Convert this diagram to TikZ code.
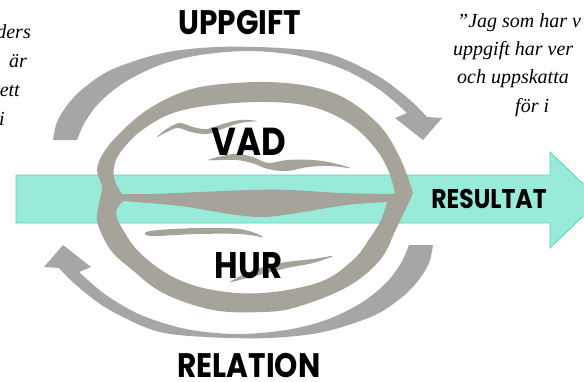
\documentclass[tikz,border=0pt]{standalone}
\usepackage{fontspec}
\setmainfont{Liberation Serif}
\newfontfamily\headfont{Poppins}[FakeStretch=0.87]
\definecolor{bandfill}{HTML}{98EBD8}
\definecolor{bandline}{HTML}{5CD3B4}
\definecolor{arcgray}{HTML}{A6A6A6}
\definecolor{nutgray}{HTML}{A6A39B}

% curved grey arrow running over the top, from lower left to the head at right
\newcommand\cyclearc{%
  \fill[arcgray]
    plot[smooth, tension=0.55] coordinates {(53,140) (57,122) (68,104) (85,87) (113,69) (163,53) (217,47) (280,48) (330,54) (378,76) (410,100) (427,117)}
    -- (442,118) -- (423,140) -- (395,118) -- (407,113)
    -- plot[smooth, tension=0.55] coordinates {(407,113) (380,90) (345,70) (300,56) (250,51) (200,55) (160,65) (125,82) (100,102) (85,122) (77,140)}
    -- cycle;}

\begin{document}
\begin{tikzpicture}[x=1pt, y=-1pt,
  head/.style={font=\headfont\bfseries\fontsize{34}{34}\selectfont, inner sep=0pt, anchor=base},
  quote/.style={font=\itshape\fontsize{20}{20}\selectfont, inner sep=0pt},
  strand/.style={fill=nutgray}]
\useasboundingbox (0,0) rectangle (584,381);
\clip (0,0) rectangle (584,381);

% result band
\filldraw[fill=bandfill, draw=bandline, line width=0.8pt]
  (16,175) -- (550,175) -- (550,152) -- (600,200) -- (550,248) -- (550,223) -- (16,223) -- cycle;

% the two circular arrows
\cyclearc
\begin{scope}[rotate around={180:(243,192.5)}]
  \cyclearc
\end{scope}

% walnut: shell with two chambers
\fill[nutgray, even odd rule]
  plot[smooth, tension=0.6] coordinates {(413,193) (401,160) (381,127) (348,100) (313,87) (267,82) (213,85) (180,93) (147,110) (121,132) (104,152) (97,170) (102,187) (99,203) (97,220) (103,237) (113,253) (130,268) (163,293) (213,310) (263,312) (297,307) (347,287) (380,260) (397,227) (410,200) (413,193)}
  -- cycle
  plot[smooth, tension=0.6] coordinates {(122,194) (114,178) (116,160) (128,143) (145,128) (173,113) (213,105) (267,102) (313,107) (350,124) (375,148) (389,172) (395,194)}
  -- plot[smooth, tension=0.6] coordinates {(395,194) (340,193) (290,190) (250,190) (200,192) (150,194) (122,194)}
  -- cycle
  plot[smooth, tension=0.6] coordinates {(123,201) (180,206) (230,214) (263,217) (297,213) (347,205) (387,202)}
  -- plot[smooth, tension=0.6] coordinates {(387,202) (381,220) (370,238) (353,260) (320,282) (263,293) (213,290) (173,277) (140,253) (122,228) (116,212) (123,201)}
  -- cycle;

% kernel strands
\fill[strand] plot[smooth cycle, tension=0.6] coordinates {(157,137) (168,128) (180,123) (193,127) (207,129) (223,124) (240,120) (257,121) (240,123) (222,129) (207,134) (191,132) (178,128) (167,132)};
\fill[strand] plot[smooth cycle, tension=0.6] coordinates {(208,160) (222,156) (237,154) (253,157) (268,163) (287,160) (313,160) (333,163) (350,168) (330,166) (308,167) (287,171) (268,169) (252,163) (237,160) (221,160)};
\fill[strand] plot[smooth cycle, tension=0.6] coordinates {(150,231) (197,228) (240,229) (263,237) (240,234) (197,234) (151,236)};
\fill[strand] plot[smooth cycle, tension=0.6] coordinates {(230,282) (252,271) (280,263) (313,259) (333,256) (313,263) (287,268) (267,273) (247,278)};

% labels
\node[head] (uppgift) at (240,34) {UPPGIFT};
\node[head, font=\headfont\bfseries\fontsize{39}{39}\selectfont] (vad) at (248.5,155) {VAD};
\node[head, font=\headfont\bfseries\fontsize{37}{37}\selectfont] (hur) at (248.5,278) {HUR};
\node[head, font=\headfont\bfseries\fontsize{27}{27}\selectfont] (resultat) at (489,208) {RESULTAT};
\node[head] (relation) at (249,377) {RELATION};

% quotation fragments
\node[quote, anchor=base east] (l1) at (31,38) {ders};
\node[quote, anchor=base east] (l2) at (27,67) {är};
\node[quote, anchor=base east] (l3) at (20,96) {ett};
\node[quote, anchor=base east] (l4) at (5,125) {i};
\node[quote, anchor=base west] (r1) at (457,27) {”Jag som har v};
\node[quote, anchor=base west] (r2) at (453,55) {uppgift har ver};
\node[quote, anchor=base west] (r3) at (457,83) {och uppskatta};
\node[quote, anchor=base west] (r4) at (515,112) {för i};
\end{tikzpicture}
\end{document}
